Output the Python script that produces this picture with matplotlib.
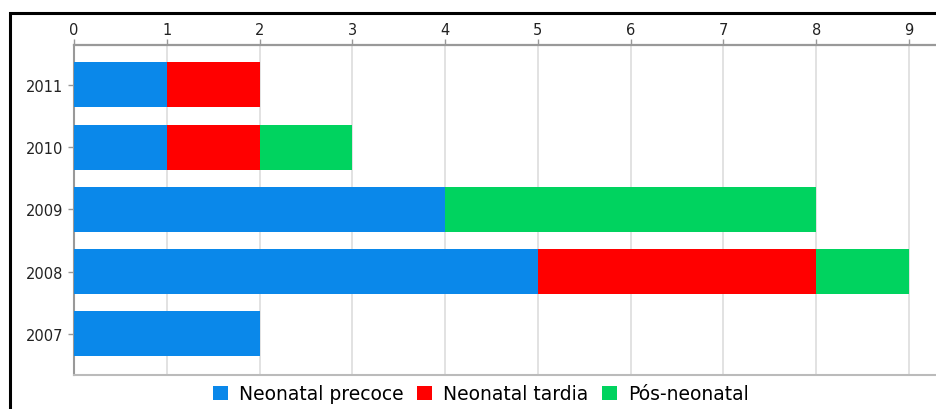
import matplotlib
matplotlib.use("Agg")
import matplotlib.pyplot as plt
from matplotlib.patches import Rectangle, Patch
import numpy as np

years = ["2007", "2008", "2009", "2010", "2011"]
precoce = [2, 5, 4, 1, 1]
tardia = [0, 3, 0, 1, 1]
pos_neonatal = [0, 1, 4, 1, 0]
series_names = ["Neonatal precoce", "Neonatal tardia", "Pós-neonatal"]
series_colors = ["#0a88ea", "#ff0000", "#00d35f"]
x_ticks = list(range(10))

fig = plt.figure(figsize=(9.36, 4.10), dpi=100)
fig.patch.set_facecolor("white")

# outer frame (open on right and bottom)
fig.add_artist(Rectangle((9.5 / 936, -0.1), 1.2, 1 - 14 / 410 + 0.1,
                         transform=fig.transFigure, fill=False,
                         edgecolor="black", linewidth=2.2, clip_on=False))

ax = fig.add_axes([74 / 936, 1 - 376 / 410, 862 / 936, 330 / 410])
y = np.arange(len(years))
left = np.zeros(len(years))
for vals, name, col in zip([precoce, tardia, pos_neonatal], series_names, series_colors):
    ax.barh(y, vals, left=left, height=0.72, color=col, label=name, zorder=3)
    left += np.array(vals)

ax.set_xlim(0, 862 / (835 / 9))
ax.set_ylim(-0.66, len(years) - 1 + 0.64)
ax.set_yticks(y)
ax.set_yticklabels(years)
ax.set_xticks(x_ticks)
ax.xaxis.tick_top()
ax.tick_params(axis="x", which="both", length=4, color="#999999", labelsize=10.5,
               labelcolor="#222222", pad=2, width=1)
ax.tick_params(axis="y", length=4, color="#999999", labelsize=10.5,
               labelcolor="#222222", pad=4, width=1)
ax.grid(axis="x", color="#dddddd", linewidth=1.2, zorder=0)
ax.spines["right"].set_visible(False)
ax.spines["top"].set_color("#999999")
ax.spines["top"].set_linewidth(1.6)
ax.spines["left"].set_color("#999999")
ax.spines["left"].set_linewidth(1.5)
ax.spines["bottom"].set_color("#bbbbbb")
ax.spines["bottom"].set_linewidth(1.5)

handles = [Patch(facecolor=c, edgecolor="none") for c in series_colors]
fig.legend(handles, series_names, loc="center", bbox_to_anchor=(481 / 936, 1 - 395 / 410),
           ncol=3, frameon=False, fontsize=13.5, handlelength=0.8, handleheight=0.8,
           handletextpad=0.6, columnspacing=0.7, borderaxespad=0)

fig.savefig("out.png", dpi=100)
